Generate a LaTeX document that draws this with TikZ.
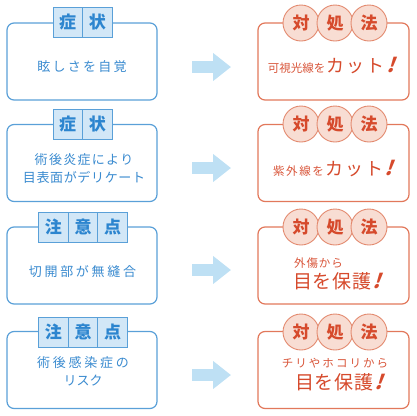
\documentclass[tikz,border=0pt]{standalone}
\usepackage{fontspec}
\usetikzlibrary{arrows.meta}
\newfontfamily\jp{Noto Sans CJK JP}
\definecolor{lblue}{HTML}{5AA0D8}
\definecolor{tagfill}{HTML}{D2E7F7}
\definecolor{tagtext}{HTML}{2C85CF}
\definecolor{ltext}{HTML}{3A8BD0}
\definecolor{arrowc}{HTML}{BEE0F4}
\definecolor{rborder}{HTML}{E2785B}
\definecolor{rfill}{HTML}{F8DDD3}
\definecolor{rcirc}{HTML}{E38A6F}
\definecolor{rtext}{HTML}{D64A2C}
\definecolor{rsmall}{HTML}{D9553A}
\newcommand{\sm}[1]{{\fontsize{11.5}{14}\selectfont #1}}
\newcommand{\bg}[1]{{\fontsize{18}{22}\selectfont #1}}
\newcommand{\excl}{{\fontsize{20}{22}\selectfont\bfseries\addfontfeature{FakeSlant=0.35}\color{rtext}!}}
\begin{document}
\begin{tikzpicture}[x=1pt,y=-1pt,
  lbox/.style={draw=lblue, line width=1.2pt, rounded corners=7pt, fill=white, minimum width=150pt, minimum height=77pt, inner sep=0},
  rbox/.style={draw=rborder, line width=1.2pt, rounded corners=7pt, fill=white, minimum width=151pt, minimum height=77pt, inner sep=0},
  tagcell/.style={draw=lblue, fill=tagfill, line width=0.9pt, minimum width=29.5pt, minimum height=30pt, inner sep=0, font=\jp\bfseries\fontsize{17}{17}\selectfont, text=tagtext},
  circ/.style={circle, draw=rcirc, fill=rfill, line width=0.9pt, minimum size=36pt, inner sep=0, font=\jp\bfseries\fontsize{17}{17}\selectfont, text=rtext},
  ltxt/.style={font=\jp\fontsize{13}{18}\selectfont, text=ltext, align=center, inner sep=0},
  rtxt/.style={font=\jp, text=rsmall, align=center, inner sep=0},
  bigarrow/.style={draw=arrowc, line width=12.5pt, -{Triangle[width=27pt,length=18pt]}}
]
\useasboundingbox (0,0) rectangle (416,416);
% ---- left boxes
\node[lbox] (L1) at (82,61.5) {};
\node[lbox] (L2) at (82,163) {};
\node[lbox] (L3) at (82,265.5) {};
\node[lbox] (L4) at (82,370) {};
% tags
\node[tagcell] (t1a) at (67.75,22.5) {症};
\node[tagcell] (t1b) at (97.25,22.5) {状};
\node[tagcell] (t2a) at (67.75,124) {症};
\node[tagcell] (t2b) at (97.25,124) {状};
\node[tagcell] (t3a) at (53.5,227) {注};
\node[tagcell] (t3b) at (83,227) {意};
\node[tagcell] (t3c) at (112.5,227) {点};
\node[tagcell] (t4a) at (53.5,332) {注};
\node[tagcell] (t4b) at (83,332) {意};
\node[tagcell] (t4c) at (112.5,332) {点};
% left texts
\node[ltxt] (x1) at (82,67) {\addfontfeature{LetterSpace=17}眩しさを自覚};
\node[ltxt] (x2) at (84,169) {\addfontfeature{LetterSpace=10}術後炎症により\\\addfontfeature{LetterSpace=5}目表面がデリケート};
\node[ltxt] (x3) at (82.5,272) {\addfontfeature{LetterSpace=21}切開部が無縫合};
\node[ltxt] (x4) at (83,371.5) {\addfontfeature{LetterSpace=21}術後感染症の\\リスク};
% arrows
\coordinate (a1s) at (192,67); \coordinate (a1e) at (231,67);
\coordinate (a2s) at (192,168); \coordinate (a2e) at (231,168);
\coordinate (a3s) at (192,270); \coordinate (a3e) at (231,270);
\coordinate (a4s) at (192,375); \coordinate (a4e) at (231,375);
\draw[bigarrow] (a1s) -- (a1e);
\draw[bigarrow] (a2s) -- (a2e);
\draw[bigarrow] (a3s) -- (a3e);
\draw[bigarrow] (a4s) -- (a4e);
% ---- right boxes
\node[rbox] (R1) at (333.5,61.5) {};
\node[rbox] (R2) at (333.5,163) {};
\node[rbox] (R3) at (333.5,265.5) {};
\node[rbox] (R4) at (333.5,370) {};
\foreach \r/\y in {1/23, 2/124, 3/227, 4/332}{
  \node[circ] (c\r a) at (301,\y) {対};
  \node[circ] (c\r b) at (335,\y) {処};
  \node[circ] (c\r c) at (369,\y) {法};
}
% right texts
\node[rtxt] (y1) at (331,66) {\sm{可視光線を}\,{\color{rtext}\bg{\addfontfeature{LetterSpace=10}カット}}\,\excl};
\node[rtxt] (y2) at (333,169) {\sm{\addfontfeature{LetterSpace=14}紫外線を}\,{\color{rtext}\bg{\addfontfeature{LetterSpace=10}カット}}\,\excl};
\node[rtxt] (y3a) at (318.5,263) {\sm{\addfontfeature{LetterSpace=8}外傷から}};
\node[rtxt] (y3b) at (337,281) {{\color{rtext}\fontsize{19}{22}\selectfont\addfontfeature{LetterSpace=3}目を保護}\,\excl};
\node[rtxt] (y4a) at (335,363) {\sm{\addfontfeature{LetterSpace=18}チリやホコリから}};
\node[rtxt] (y4b) at (339,382) {{\color{rtext}\fontsize{19}{22}\selectfont\addfontfeature{LetterSpace=3}目を保護}\,\excl};
\end{tikzpicture}
\end{document}
